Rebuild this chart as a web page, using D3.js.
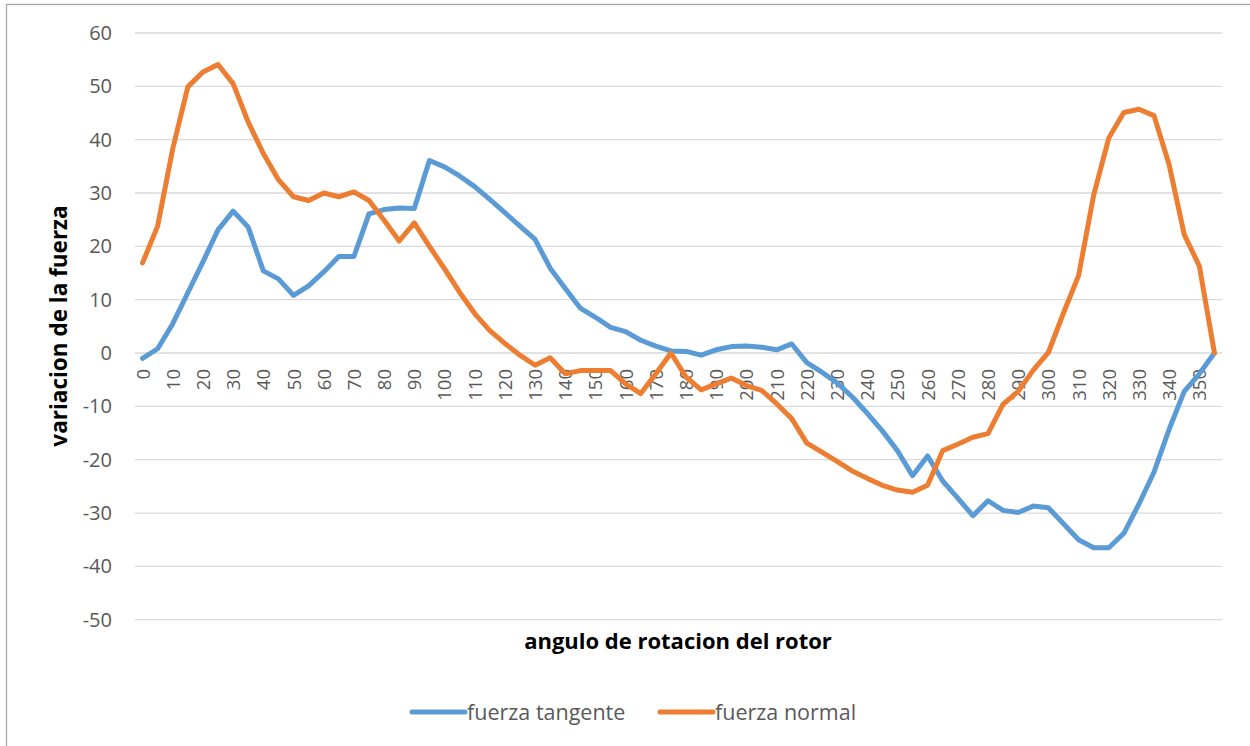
<!DOCTYPE html>
<html>
<head>
<meta charset="utf-8">
<script src="https://cdn.jsdelivr.net/npm/d3@7"></script>
<style>
  html, body { margin: 0; padding: 0; background: #fff; }
  svg { display: block; }
</style>
</head>
<body>
<svg id="chart" width="1250" height="746"></svg>
<script>
// Rotor angle (degrees), sampled every 5°
const angles = d3.range(0, 360, 5);

// Tangential force variation per angle
const fuerzaTangente = [
  -1.0, 0.8, 5.5, 11.3, 17.1, 23.1, 26.6, 23.6, 15.4, 13.9,
  10.8, 12.6, 15.2, 18.1, 18.1, 26.1, 26.9, 27.2, 27.1, 36.1,
  34.9, 33.2, 31.2, 28.8, 26.3, 23.8, 21.3, 15.9, 12.1, 8.4,
  6.7, 4.8, 4.0, 2.4, 1.3, 0.4, 0.3, -0.4, 0.6, 1.2,
  1.3, 1.1, 0.6, 1.7, -1.8, -3.6, -5.6, -8.2, -11.3, -14.6,
  -18.3, -23.0, -19.3, -24.0, -27.2, -30.5, -27.7, -29.5, -29.9, -28.7,
  -29.0, -32.0, -35.0, -36.5, -36.5, -33.8, -28.3, -22.3, -14.3, -7.2,
  -3.9, 0.0
];

// Normal force variation per angle
const fuerzaNormal = [
  16.9, 23.8, 38.3, 49.9, 52.7, 54.1, 50.5, 43.3, 37.4, 32.5,
  29.3, 28.6, 30.0, 29.3, 30.2, 28.6, 24.9, 21.0, 24.4, 20.0,
  15.8, 11.4, 7.4, 4.2, 1.8, -0.4, -2.3, -0.9, -3.9, -3.3,
  -3.3, -3.3, -5.8, -7.6, -3.9, 0.0, -4.5, -6.9, -5.8, -4.7,
  -6.1, -7.0, -9.5, -12.3, -16.9, -18.6, -20.3, -22.1, -23.5, -24.8,
  -25.7, -26.1, -24.8, -18.3, -17.1, -15.8, -15.1, -9.6, -7.2, -3.2,
  0.1, 7.5, 14.5, 29.6, 40.3, 45.1, 45.7, 44.5, 35.3, 22.2,
  16.3, 0.0
];

const yTicks = d3.range(-50, 61, 10);
const xTickLabels = angles.filter(a => a % 10 === 0);

const series = [
  { name: "fuerza tangente", values: fuerzaTangente, color: "#5B9BD5" },
  { name: "fuerza normal",   values: fuerzaNormal,   color: "#ED7D31" }
];

const svg = d3.select("#chart");
const plot = { left: 135, right: 1222, top: 33, bottom: 619.7 };

const x = d3.scalePoint()
  .domain(angles)
  .range([plot.left, plot.right])
  .padding(0.5);

const y = d3.scaleLinear()
  .domain([-50, 60])
  .range([plot.bottom, plot.top]);

const textFont = "'Open Sans', sans-serif";
const gray = "#595959";

// Outer chart frame
svg.append("rect")
  .attr("x", 6.5).attr("y", 4.5)
  .attr("width", 1260).attr("height", 760)
  .attr("fill", "none")
  .attr("stroke", "#a6a6a6")
  .attr("stroke-width", 1.3);

// Horizontal gridlines
svg.append("g")
  .selectAll("line")
  .data(yTicks)
  .join("line")
  .attr("x1", plot.left).attr("x2", plot.right)
  .attr("y1", d => y(d)).attr("y2", d => y(d))
  .attr("stroke", "#d9d9d9")
  .attr("stroke-width", 1.3);

// Value axis labels (plain hyphen for negatives)
const yAxis = d3.axisLeft(y)
  .tickValues(yTicks)
  .tickFormat(d => String(d))
  .tickSize(0).tickPadding(0);
svg.append("g")
  .attr("transform", `translate(${plot.left - 23},0)`)
  .call(yAxis)
  .call(g => g.select(".domain").remove())
  .call(g => g.selectAll("text")
    .attr("fill", gray)
    .style("font-family", textFont)
    .style("font-size", "20px"));

// Angle labels, rotated, hanging below the zero line
const xAxis = d3.axisBottom(x).tickValues(xTickLabels).tickSize(0).tickPadding(0);
svg.append("g")
  .attr("transform", `translate(0,${y(0)})`)
  .call(xAxis)
  .call(g => g.select(".domain").remove())
  .call(g => g.selectAll("text")
    .attr("fill", gray)
    .attr("y", 0)
    .attr("x", -16)
    .attr("dy", "0.35em")
    .attr("transform", "rotate(-90)")
    .attr("text-anchor", "end")
    .style("font-family", textFont)
    .style("font-size", "18.5px"));

// Series lines
const line = d3.line()
  .x((d, i) => x(angles[i]))
  .y(d => y(d));

svg.append("g")
  .selectAll("path")
  .data(series)
  .join("path")
  .attr("d", s => line(s.values))
  .attr("fill", "none")
  .attr("stroke", s => s.color)
  .attr("stroke-width", 5)
  .attr("stroke-linejoin", "round")
  .attr("stroke-linecap", "round");

// Axis titles
svg.append("text")
  .attr("x", 678).attr("y", 649)
  .attr("text-anchor", "middle")
  .attr("fill", "#000")
  .style("font-family", textFont)
  .style("font-weight", "bold")
  .style("font-size", "22px")
  .text("angulo de rotacion del rotor");

svg.append("text")
  .attr("transform", "translate(67,326) rotate(-90)")
  .attr("text-anchor", "middle")
  .attr("fill", "#000")
  .style("font-family", textFont)
  .style("font-weight", "bold")
  .style("font-size", "22.5px")
  .text("variacion de la fuerza");

// Legend
const legendX = [412, 660];
const legend = svg.append("g")
  .selectAll("g")
  .data(series)
  .join("g")
  .attr("transform", (s, i) => `translate(${legendX[i]},712)`);

legend.append("line")
  .attr("x1", 0).attr("x2", 53)
  .attr("y1", 0).attr("y2", 0)
  .attr("stroke", s => s.color)
  .attr("stroke-width", 5)
  .attr("stroke-linecap", "round");

legend.append("text")
  .attr("x", 55)
  .attr("dy", "0.35em")
  .attr("fill", gray)
  .style("font-family", textFont)
  .style("font-size", "21.5px")
  .text(s => s.name);
</script>
</body>
</html>
